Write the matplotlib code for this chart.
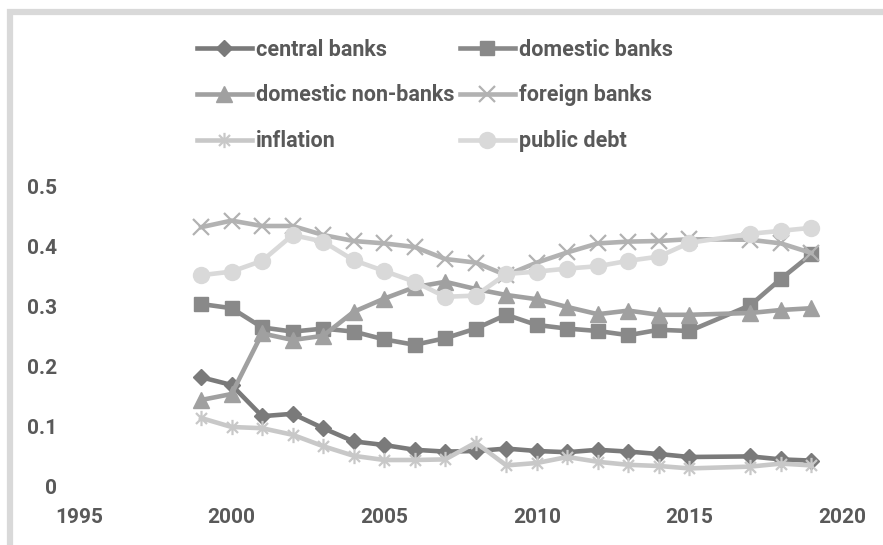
import matplotlib
matplotlib.use("Agg")
import matplotlib.pyplot as plt
from matplotlib.path import Path
from matplotlib.patches import Rectangle

plt.rcParams['font.family'] = ['Roboto', 'DejaVu Sans']

years = [1999, 2000, 2001, 2002, 2003, 2004, 2005, 2006, 2007, 2008, 2009,
         2010, 2011, 2012, 2013, 2014, 2015, 2017, 2018, 2019]

central_banks = [0.183, 0.170, 0.118, 0.122, 0.098, 0.076, 0.070, 0.062, 0.059, 0.060,
                 0.064, 0.060, 0.058, 0.062, 0.059, 0.055, 0.050, 0.051, 0.046, 0.044]
domestic_banks = [0.305, 0.298, 0.266, 0.259, 0.264, 0.259, 0.246, 0.237, 0.248, 0.264,
                  0.287, 0.270, 0.264, 0.260, 0.253, 0.262, 0.260, 0.303, 0.347, 0.388]
domestic_nonbanks = [0.145, 0.155, 0.256, 0.245, 0.252, 0.292, 0.314, 0.333, 0.342, 0.330,
                     0.320, 0.313, 0.300, 0.288, 0.294, 0.287, 0.287, 0.290, 0.295, 0.298]
foreign_banks = [0.433, 0.444, 0.435, 0.435, 0.420, 0.410, 0.406, 0.400, 0.380, 0.374,
                 0.353, 0.374, 0.391, 0.406, 0.409, 0.410, 0.413, 0.412, 0.406, 0.390]
inflation = [0.115, 0.100, 0.098, 0.087, 0.068, 0.052, 0.045, 0.045, 0.046, 0.074,
             0.036, 0.040, 0.050, 0.042, 0.037, 0.035, 0.031, 0.034, 0.039, 0.036]
public_debt = [0.353, 0.359, 0.377, 0.420, 0.409, 0.378, 0.360, 0.342, 0.317, 0.319,
               0.355, 0.359, 0.364, 0.368, 0.377, 0.384, 0.407, 0.422, 0.427, 0.432]

x_ticks = [1995, 2000, 2005, 2010, 2015, 2020]
y_ticks = [0, 0.1, 0.2, 0.3, 0.4, 0.5]
y_tick_labels = ['0', '0.1', '0.2', '0.3', '0.4', '0.5']

W, H = 883, 545
fig = plt.figure(figsize=(W / 100, H / 100), dpi=100)
fig.patch.set_facecolor('white')

# outer chart frame (light gray, cut off at right and bottom)
fig.patches.append(Rectangle((10 / W, -0.1), 1.2, (H - 12) / H + 0.1,
                             transform=fig.transFigure, fill=False,
                             edgecolor='#d9d9d9', linewidth=4.5))

ax = fig.add_axes([79 / W, (H - 487) / H, (842 - 79) / W, (487 - 187) / H])

star = Path([(0, -1), (0, 1), (-0.72, -0.72), (0.72, 0.72), (-0.72, 0.72), (0.72, -0.72)],
            [Path.MOVETO, Path.LINETO, Path.MOVETO, Path.LINETO, Path.MOVETO, Path.LINETO])

lw = 3.3
h_cb, = ax.plot(years, central_banks, color='#7a7a7a', lw=lw, marker='D', ms=8.5,
                mec='#7a7a7a', mfc='#7a7a7a', label='central banks', clip_on=False)
h_db, = ax.plot(years, domestic_banks, color='#898989', lw=lw, marker='s', ms=10.5,
                mec='#898989', mfc='#898989', label='domestic banks', clip_on=False)
h_dn, = ax.plot(years, domestic_nonbanks, color='#a0a0a0', lw=lw, marker='^', ms=11,
                mec='#a0a0a0', mfc='#a0a0a0', label='domestic non-banks', clip_on=False)
h_fb, = ax.plot(years, foreign_banks, color='#b2b2b2', lw=lw, marker='x', ms=11,
                mew=1.6, mec='#b2b2b2', label='foreign banks', clip_on=False)
h_in, = ax.plot(years, inflation, color='#c8c8c8', lw=lw, marker=star, ms=11,
                mew=1.6, mec='#c8c8c8', label='inflation', clip_on=False)
h_pd, = ax.plot(years, public_debt, color='#d9d9d9', lw=lw, marker='o', ms=11.5,
                mec='#d9d9d9', mfc='#d9d9d9', label='public debt', clip_on=False)

ax.set_xlim(1995, 2020)
ax.set_ylim(0, 0.5)
ax.set_xticks(x_ticks)
ax.set_xticklabels([str(v) for v in x_ticks])
ax.set_yticks(y_ticks)
ax.set_yticklabels(y_tick_labels)
for s in ax.spines.values():
    s.set_visible(False)
ax.tick_params(axis='both', length=0, labelsize=15, labelcolor='#595959')
ax.tick_params(axis='y', pad=16)
ax.tick_params(axis='x', pad=15)
for t in ax.get_xticklabels() + ax.get_yticklabels():
    t.set_fontweight('bold')

handles = [h_cb, h_dn, h_in, h_db, h_fb, h_pd]
leg = fig.legend(handles=handles, labels=[h.get_label() for h in handles],
                 ncol=2, loc='upper left', bbox_to_anchor=(186 / W, 1 - 28 / H),
                 frameon=False, handlelength=2.55, handletextpad=0.19,
                 columnspacing=0.25, labelspacing=1.1, borderpad=0,
                 prop={'weight': 'bold', 'size': 15.5})
for t in leg.get_texts():
    t.set_color('#595959')

fig.savefig('out.png', dpi=100, facecolor='white')
